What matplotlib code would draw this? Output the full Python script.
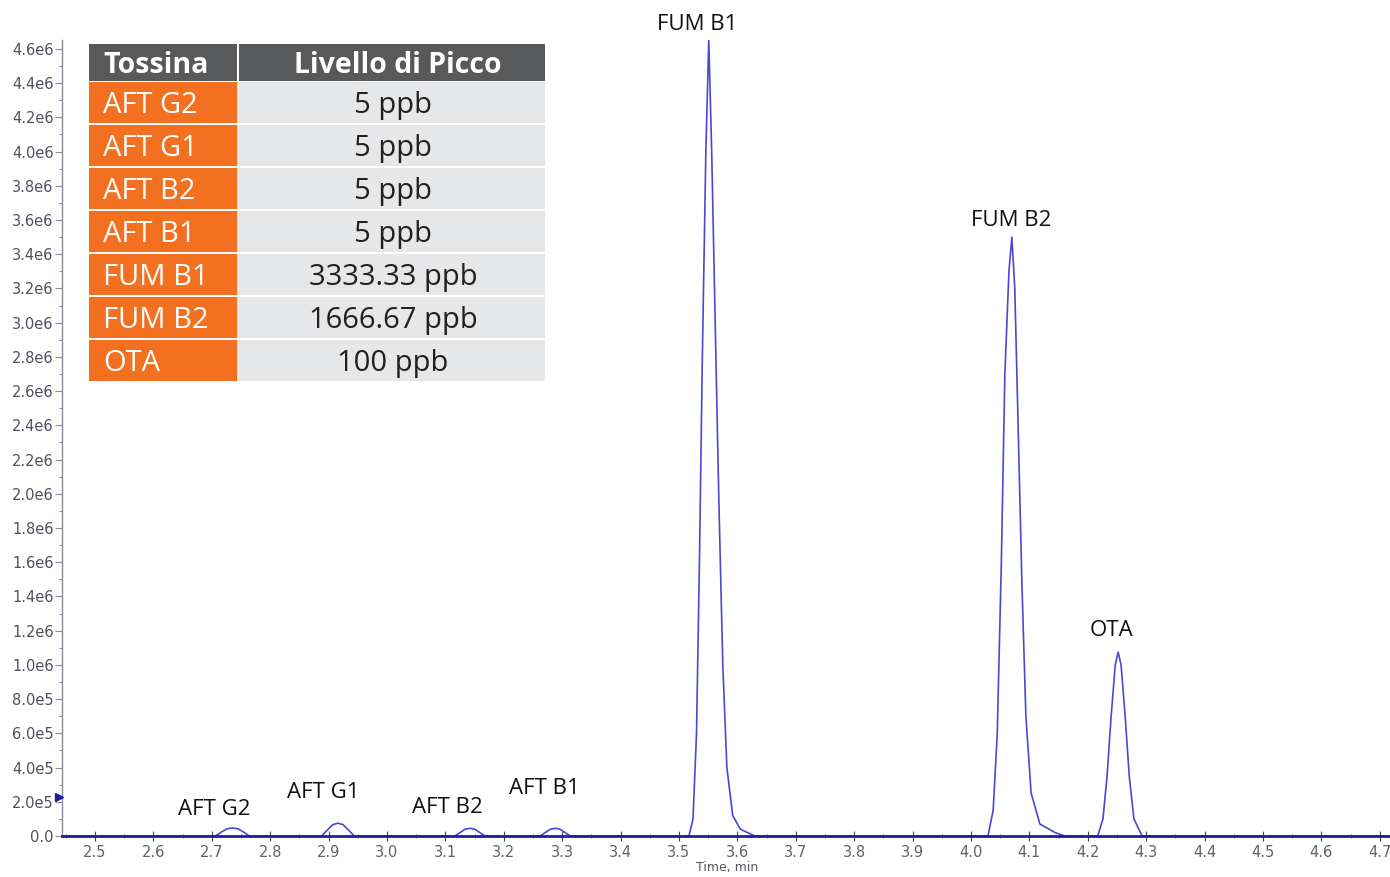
import matplotlib.pyplot as plt
from matplotlib.patches import Rectangle
from matplotlib.ticker import MultipleLocator, FuncFormatter

plt.rcParams['font.family'] = ['Open Sans', 'DejaVu Sans']

# --- table content ---
toxins = ["AFT G2", "AFT G1", "AFT B2", "AFT B1", "FUM B1", "FUM B2", "OTA"]
levels = ["5 ppb", "5 ppb", "5 ppb", "5 ppb", "3333.33 ppb", "1666.67 ppb", "100 ppb"]

# --- chromatogram (time in min, intensity in cps) ---
aft_g2_t = [2.706, 2.716, 2.726, 2.735, 2.745, 2.755, 2.764]
aft_g2_i = [0, 2.2e4, 4.2e4, 4.7e4, 4.2e4, 2.2e4, 0]
aft_g1_t = [2.888, 2.898, 2.907, 2.916, 2.925, 2.934, 2.944]
aft_g1_i = [0, 3.5e4, 6.6e4, 7.5e4, 6.6e4, 3.5e4, 0]
aft_b2_t = [3.116, 3.125, 3.134, 3.142, 3.150, 3.159, 3.168]
aft_b2_i = [0, 2.0e4, 4.0e4, 4.5e4, 4.0e4, 2.0e4, 0]
aft_b1_t = [3.262, 3.271, 3.280, 3.288, 3.296, 3.305, 3.314]
aft_b1_i = [0, 2.0e4, 4.0e4, 4.5e4, 4.0e4, 2.0e4, 0]
fum_b1_t = [3.517, 3.524, 3.530, 3.535, 3.540, 3.546, 3.551, 3.556, 3.562,
            3.568, 3.575, 3.582, 3.592, 3.605, 3.630]
fum_b1_i = [0, 1.0e5, 6.0e5, 1.6e6, 2.8e6, 4.0e6, 4.65e6, 4.0e6, 3.0e6,
            2.0e6, 1.0e6, 4.0e5, 1.2e5, 4.0e4, 0]
fum_b2_t = [4.029, 4.038, 4.045, 4.052, 4.058, 4.065, 4.070, 4.075, 4.080,
            4.087, 4.094, 4.103, 4.118, 4.144, 4.161]
fum_b2_i = [0, 1.5e5, 6.0e5, 1.6e6, 2.7e6, 3.3e6, 3.5e6, 3.2e6, 2.5e6,
            1.5e6, 7.0e5, 2.5e5, 7.0e4, 2.0e4, 0]
ota_t = [4.217, 4.226, 4.233, 4.240, 4.247, 4.252, 4.257, 4.264, 4.271, 4.279, 4.293]
ota_i = [0, 1.0e5, 3.5e5, 7.0e5, 1.0e6, 1.075e6, 1.0e6, 7.0e5, 3.5e5, 1.0e5, 0]

peak_names = ["AFT G2", "AFT G1", "AFT B2", "AFT B1", "FUM B1", "FUM B2", "OTA"]
label_t = [2.704, 2.890, 3.104, 3.270, 3.532, 4.068, 4.241]
label_i = [1.52e5, 2.57e5, 1.69e5, 2.75e5, 4.74e6, 3.60e6, 1.20e6]

x_min, x_max = 2.4435, 4.7175
y_max = 4.652e6

times = [x_min] + aft_g2_t + aft_g1_t + aft_b2_t + aft_b1_t + fum_b1_t + fum_b2_t + ota_t + [x_max]
inten = [0] + aft_g2_i + aft_g1_i + aft_b2_i + aft_b1_i + fum_b1_i + fum_b2_i + ota_i + [0]

W, H = 1390, 877
fig = plt.figure(figsize=(W / 100, H / 100), dpi=100)
ax = fig.add_axes([62 / W, 41 / H, 1 - 62 / W, (836 - 40) / H])

ax.plot(times, inten, color="#4848d4", lw=1.2, zorder=3)
ax.set_xlim(x_min, x_max)
ax.set_ylim(0, y_max)

for s in ["top", "right"]:
    ax.spines[s].set_visible(False)
ax.spines["left"].set_color("#8a8a96")
ax.spines["left"].set_linewidth(1.0)
ax.spines["bottom"].set_color("#1e1e9e")
ax.spines["bottom"].set_linewidth(2.0)
ax.spines["bottom"].set_zorder(4)

ax.xaxis.set_major_locator(MultipleLocator(0.1))
ax.xaxis.set_minor_locator(MultipleLocator(0.05))
ax.yaxis.set_major_locator(MultipleLocator(2e5))
ax.yaxis.set_minor_locator(MultipleLocator(1e5))
ax.xaxis.set_major_formatter(FuncFormatter(lambda v, p: f"{v:.1f}"))


def yfmt(v, p):
    if v == 0:
        return "0.0"
    s = f"{v:.1e}"
    m, e = s.split("e")
    return f"{m}e{int(e)}"


ax.yaxis.set_major_formatter(FuncFormatter(yfmt))
ax.tick_params(axis="y", which="major", direction="out", length=5, width=0.8,
               color="#8a8a96", labelsize=10.5, labelcolor="#50505e", pad=1)
ax.tick_params(axis="y", which="minor", direction="out", length=2, width=0.8, color="#8a8a96")
ax.tick_params(axis="x", which="major", direction="inout", length=7, width=0.8,
               color="#444", labelsize=10.5, labelcolor="#60606a", pad=3)
ax.tick_params(axis="x", which="minor", direction="inout", length=3, width=0.6, color="#666")
for lab in ax.get_xticklabels() + ax.get_yticklabels():
    lab.set_family("DejaVu Sans")

for name, t, i in zip(peak_names, label_t, label_i):
    ax.text(t, i, name, ha="center", va="center", fontsize=16, color="#111111",
            clip_on=False, zorder=5)

# overlay in pixel units for the table and small extras
ov = fig.add_axes([0, 0, 1, 1], zorder=5)
ov.set_xlim(0, W)
ov.set_ylim(H, 0)
ov.axis("off")
ov.patch.set_alpha(0)

ov.text(727, 868, "Time, min", ha="center", va="center", fontsize=9,
        color="#55555f", family="DejaVu Sans")
ov.plot([59], [797], marker=">", color="#1e1e9e", ms=6)

orange = "#f37021"
body_grey = "#e6e7e8"
head_grey = "#58595b"

ov.add_patch(Rectangle((89, 44), 148, 37, color=head_grey, lw=0))
ov.add_patch(Rectangle((239, 44), 306, 37, color=head_grey, lw=0))
ov.text(103, 73, "Tossina", ha="left", va="baseline", fontsize=20.5,
        fontweight="bold", color="white")
ov.text(398, 73, "Livello di Picco", ha="center", va="baseline", fontsize=20.5,
        fontweight="bold", color="white")

for k, (tox, lev) in enumerate(zip(toxins, levels)):
    top = 82 + k * 43
    ov.add_patch(Rectangle((89, top), 148, 41, color=orange, lw=0))
    ov.add_patch(Rectangle((237, top), 308, 41, color=body_grey, lw=0))
    ov.text(103, top + 31, tox, ha="left", va="baseline", fontsize=21, color="white")
    ov.text(393, top + 31, lev, ha="center", va="baseline", fontsize=21, color="#231f20")

fig.savefig("out.png", dpi=100)
